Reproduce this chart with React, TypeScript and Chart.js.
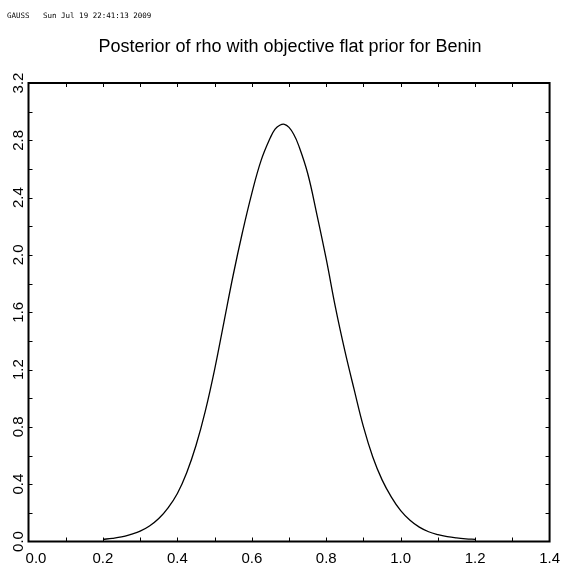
import React, { useEffect, useRef } from "react";
import { Chart, registerables } from "chart.js";

Chart.register(...registerables);

// ---- data ----
const rhoValues = [
  0.2, 0.225, 0.25, 0.275, 0.3, 0.325, 0.35, 0.375, 0.4, 0.425,
  0.45, 0.475, 0.5, 0.525, 0.55, 0.575, 0.6, 0.625, 0.65, 0.6625, 0.675,
  0.6875, 0.7, 0.7125, 0.725, 0.75, 0.775, 0.8, 0.825, 0.85, 0.875, 0.9, 0.925,
  0.95, 0.975, 1.0, 1.025, 1.05, 1.075, 1.1, 1.125, 1.15, 1.175, 1.2,
];
const densityValues = [
  0.015, 0.022, 0.032, 0.05, 0.072, 0.108, 0.16, 0.235, 0.335, 0.48,
  0.67, 0.91, 1.2, 1.53, 1.86, 2.16, 2.43, 2.66, 2.82, 2.878, 2.905,
  2.912, 2.89, 2.842, 2.77, 2.57, 2.28, 1.97, 1.63, 1.33, 1.06, 0.8, 0.59,
  0.43, 0.31, 0.215, 0.148, 0.1, 0.068, 0.048, 0.034, 0.025, 0.019, 0.015,
];
const xTickMarks = [0.1, 0.2, 0.3, 0.4, 0.5, 0.6, 0.7, 0.8, 0.9, 1.0, 1.1, 1.2, 1.3];
const yTickMarks = [0.2, 0.4, 0.6, 0.8, 1.0, 1.2, 1.4, 1.6, 1.8, 2.0, 2.2, 2.4, 2.6, 2.8, 3.0];
const headerProgram = "GAUSS";
const headerDate = "Sun Jul 19 22:41:13 2009";
const titleText = "Posterior of rho with objective flat prior for Benin";

const tickFont = "'Liberation Sans Narrow', 'Liberation Sans', sans-serif";

const framePlugin = {
  id: "gaussFrame",
  afterDraw(chart: any) {
    const { ctx, chartArea: a, scales } = chart;
    const xs = scales.x;
    const ys = scales.y;
    ctx.save();
    ctx.strokeStyle = "#000";
    ctx.lineWidth = 1;
    const tl = 4;
    ctx.beginPath();
    for (const v of xTickMarks) {
      const px = Math.round(xs.getPixelForValue(v)) + 0.5;
      ctx.moveTo(px, a.bottom);
      ctx.lineTo(px, a.bottom - tl);
      ctx.moveTo(px, a.top);
      ctx.lineTo(px, a.top + tl);
    }
    for (const v of yTickMarks) {
      const py = Math.round(ys.getPixelForValue(v)) + 0.5;
      ctx.moveTo(a.left, py);
      ctx.lineTo(a.left + tl, py);
      ctx.moveTo(a.right, py);
      ctx.lineTo(a.right - tl, py);
    }
    ctx.stroke();
    ctx.lineWidth = 2;
    ctx.strokeRect(a.left, a.top, a.right - a.left, a.bottom - a.top);

    ctx.fillStyle = "#000";
    ctx.textBaseline = "alphabetic";
    ctx.textAlign = "left";
    ctx.font = "7.5px 'DejaVu Sans Mono', 'Liberation Mono', monospace";
    ctx.fillText(headerProgram, 7, 17.5);
    ctx.fillText(headerDate, 43, 17.5);
    ctx.textAlign = "center";
    ctx.font = "18px 'Liberation Sans', sans-serif";
    ctx.fillText(titleText, 290, 52);
    ctx.restore();
  },
};

export default function App() {
  const canvasRef = useRef<HTMLCanvasElement | null>(null);

  useEffect(() => {
    if (!canvasRef.current) return;
    const points = rhoValues.map((x, i) => ({ x, y: densityValues[i] }));
    const chart = new Chart(canvasRef.current, {
      type: "line",
      data: {
        datasets: [
          {
            data: points,
            borderColor: "#000",
            borderWidth: 1.3,
            pointRadius: 0,
            fill: false,
            tension: 0.4,
          },
        ],
      },
      options: {
        animation: false,
        responsive: false,
        maintainAspectRatio: false,
        layout: { padding: { top: 83, right: 11, bottom: 0, left: 0 } },
        plugins: {
          legend: { display: false },
          tooltip: { enabled: false },
          title: { display: false },
        },
        scales: {
          x: {
            type: "linear",
            min: 0,
            max: 1.4,
            grid: { display: false, drawTicks: false },
            border: { display: false },
            ticks: {
              stepSize: 0.2,
              padding: 8,
              color: "#000",
              maxRotation: 0,
              autoSkip: false,
              font: { family: tickFont, size: 15 },
              callback: (v: any) => (Number(v) === 0 ? "\u2003" : "") + Number(v).toFixed(1),
            },
            afterFit: (s: any) => {
              s.height = 25.5;
            },
          },
          y: {
            type: "linear",
            min: 0,
            max: 3.2,
            grid: { display: false, drawTicks: false },
            border: { display: false },
            ticks: {
              stepSize: 0.4,
              padding: -1,
              color: "#000",
              minRotation: 90,
              maxRotation: 90,
              crossAlign: "center",
              autoSkip: false,
              font: { family: tickFont, size: 15 },
              callback: (v: any) => Number(v).toFixed(1),
            },
            afterFit: (s: any) => {
              s.width = 28.5;
            },
          },
        },
      },
      plugins: [framePlugin],
    });
    return () => chart.destroy();
  }, []);

  return (
    <div style={{ position: "fixed", left: 0, top: 0, width: 568, height: 567, background: "#fff" }}>
      <canvas ref={canvasRef} width={568} height={567} style={{ width: 568, height: 567 }} />
    </div>
  );
}
